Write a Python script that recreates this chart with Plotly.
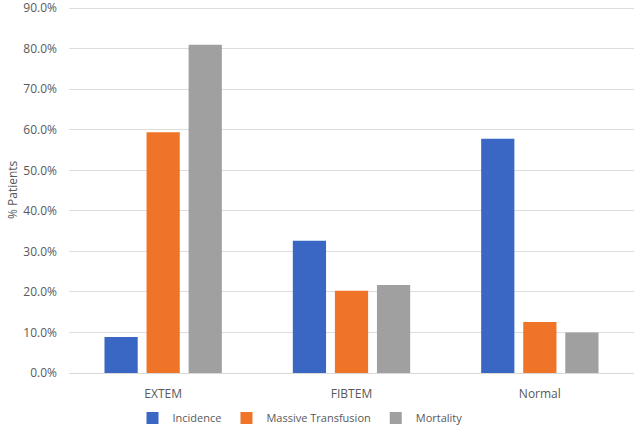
import plotly.graph_objects as go

categories = ["EXTEM", "FIBTEM", "Normal"]
incidence = [8.9, 32.6, 57.8]
massive_transfusion = [59.4, 20.3, 12.6]
mortality = [81.0, 21.7, 10.0]
y_ticks = [0, 10, 20, 30, 40, 50, 60, 70, 80, 90]
y_tick_labels = [f"{v:.1f}%" for v in y_ticks]

series = [
    ("Incidence", incidence, "#3A67C3"),
    ("Massive Transfusion", massive_transfusion, "#F07427"),
    ("Mortality", mortality, "#A0A0A0"),
]

fig = go.Figure()
for name, vals, color in series:
    fig.add_trace(go.Bar(x=categories, y=vals, name=name,
                         marker=dict(color=color, line=dict(width=0))))

font_family = "Open Sans, Noto Sans, sans-serif"
plot_w = 636 - 69 - 2
fig.update_layout(
    width=636, height=426,
    margin=dict(l=69, r=2, t=7, b=53, autoexpand=False),
    paper_bgcolor="white", plot_bgcolor="white",
    barmode="group", bargap=0.33, bargroupgap=0.21,
    font=dict(family=font_family, size=12, color="#595959"),
    showlegend=True,
    legend=dict(orientation="h", x=(300 - 69) / plot_w, xanchor="center",
                y=-0.123, yanchor="middle",
                font=dict(size=11, color="#595959"), itemwidth=30,
                traceorder="normal"),
    xaxis=dict(showline=True, linecolor="#D9D9D9", linewidth=1,
               ticks="", tickfont=dict(size=12, color="#595959"),
               ticklabelstandoff=10,
               showgrid=False, automargin=False),
    yaxis=dict(range=[0, 90.3], tickmode="array", tickvals=y_ticks, ticktext=y_tick_labels,
               showgrid=True, gridcolor="#DDDDDD", gridwidth=1,
               zeroline=False, showline=False, ticks="", automargin=False,
               ticklabeloverflow="allow", ticklabelstandoff=11,
               tickfont=dict(size=12, color="#595959")),
    annotations=[dict(text="% Patients", xref="paper", yref="paper",
                      x=(12 - 69) / plot_w, y=0.5, xanchor="center", yanchor="middle",
                      textangle=-90, showarrow=False,
                      font=dict(size=12, color="#595959"))],
)

fig.write_html("out.html", config={"displayModeBar": False},
               post_script="document.body.style.margin='0';document.body.style.overflow='hidden';")
